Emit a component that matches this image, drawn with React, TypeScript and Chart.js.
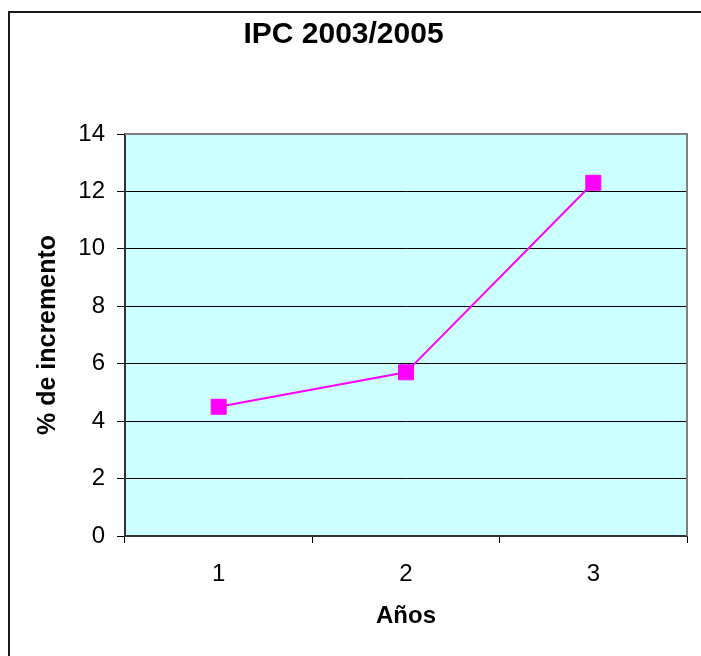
import React, { useEffect, useRef } from "react";
import { Chart, registerables } from "chart.js";

Chart.register(...registerables);

const TITLE = "IPC 2003/2005";
const X_TITLE = "Años";
const Y_TITLE = "% de incremento";
const categories = ["1", "2", "3"];
const ipcValues = [4.5, 5.7, 12.3];
const yMin = 0;
const yMax = 14;
const yStep = 2;

const FONT = "'Liberation Sans', Arial, Helvetica, sans-serif";

const plotFrame = {
  id: "plotFrame",
  beforeDraw(chart: any) {
    const { ctx, chartArea } = chart;
    ctx.save();
    ctx.fillStyle = "#CCFFFF";
    ctx.fillRect(chartArea.left, chartArea.top, chartArea.right - chartArea.left, chartArea.bottom - chartArea.top);
    ctx.restore();
  },
  afterDatasetsDraw(chart: any) {
    const { ctx, chartArea } = chart;
    ctx.save();
    ctx.strokeStyle = "#808080";
    ctx.lineWidth = 2;
    ctx.beginPath();
    ctx.moveTo(chartArea.left, chartArea.top);
    ctx.lineTo(chartArea.right, chartArea.top);
    ctx.lineTo(chartArea.right, chartArea.bottom);
    ctx.stroke();
    ctx.restore();
  },
};

export default function App() {
  const ref = useRef<HTMLCanvasElement>(null);

  useEffect(() => {
    if (!ref.current) return;
    const chart = new Chart(ref.current, {
      type: "line",
      data: {
        labels: categories,
        datasets: [
          {
            data: ipcValues,
            borderColor: "#FF00FF",
            backgroundColor: "#FF00FF",
            borderWidth: 2,
            pointStyle: "rect",
            pointRadius: 10.6,
            pointBorderWidth: 1,
            pointBorderColor: "#FF00FF",
            pointBackgroundColor: "#FF00FF",
            tension: 0,
          },
        ],
      },
      options: {
        animation: false,
        responsive: false,
        events: [],
        layout: { padding: { left: 0, right: 14, top: 0, bottom: 0 } },
        plugins: {
          legend: { display: false },
          tooltip: { enabled: false },
          title: {
            display: true,
            text: TITLE,
            color: "#000",
            font: { family: FONT, size: 30, weight: "bold" },
            padding: { top: 17, bottom: 81 },
          },
        },
        scales: {
          x: {
            type: "category",
            offset: true,
            afterFit: (s: any) => {
              s.height = 120;
            },
            grid: {
              offset: true,
              drawOnChartArea: false,
              drawTicks: true,
              tickLength: 7,
              color: "#000",
              lineWidth: 1,
            },
            border: { display: true, color: "#333", width: 2 },
            ticks: {
              color: "#000",
              font: { family: FONT, size: 24 },
              padding: 17,
              maxRotation: 0,
            },
            title: {
              display: true,
              text: X_TITLE,
              color: "#000",
              font: { family: FONT, size: 24, weight: "bold" },
              padding: { top: 0, bottom: 25.6 },
            },
          },
          y: {
            min: yMin,
            max: yMax,
            afterFit: (s: any) => {
              s.width = 125;
            },
            grid: {
              color: "#000",
              lineWidth: 1,
              drawTicks: true,
              tickLength: 8,
            },
            border: { display: true, color: "#333", width: 2 },
            ticks: {
              stepSize: yStep,
              color: "#000",
              font: { family: FONT, size: 24 },
              padding: 12,
            },
            title: {
              display: true,
              text: Y_TITLE,
              color: "#000",
              font: { family: FONT, size: 25, weight: "bold" },
              padding: { top: 33, bottom: 0 },
            },
          },
        },
      },
      plugins: [plotFrame],
    } as any);
    return () => chart.destroy();
  }, []);

  return (
    <div
      style={{
        position: "absolute",
        left: 0,
        top: 0,
        width: 701,
        height: 656,
        overflow: "hidden",
        background: "#fff",
      }}
    >
      <canvas ref={ref} width={701} height={656} style={{ display: "block", width: 701, height: 656 }} />
      <div
        style={{
          position: "absolute",
          left: 8,
          top: 11,
          width: 693,
          height: 645,
          borderTop: "2px solid #1a1a1a",
          borderLeft: "2px solid #1a1a1a",
          pointerEvents: "none",
        }}
      />
    </div>
  );
}
